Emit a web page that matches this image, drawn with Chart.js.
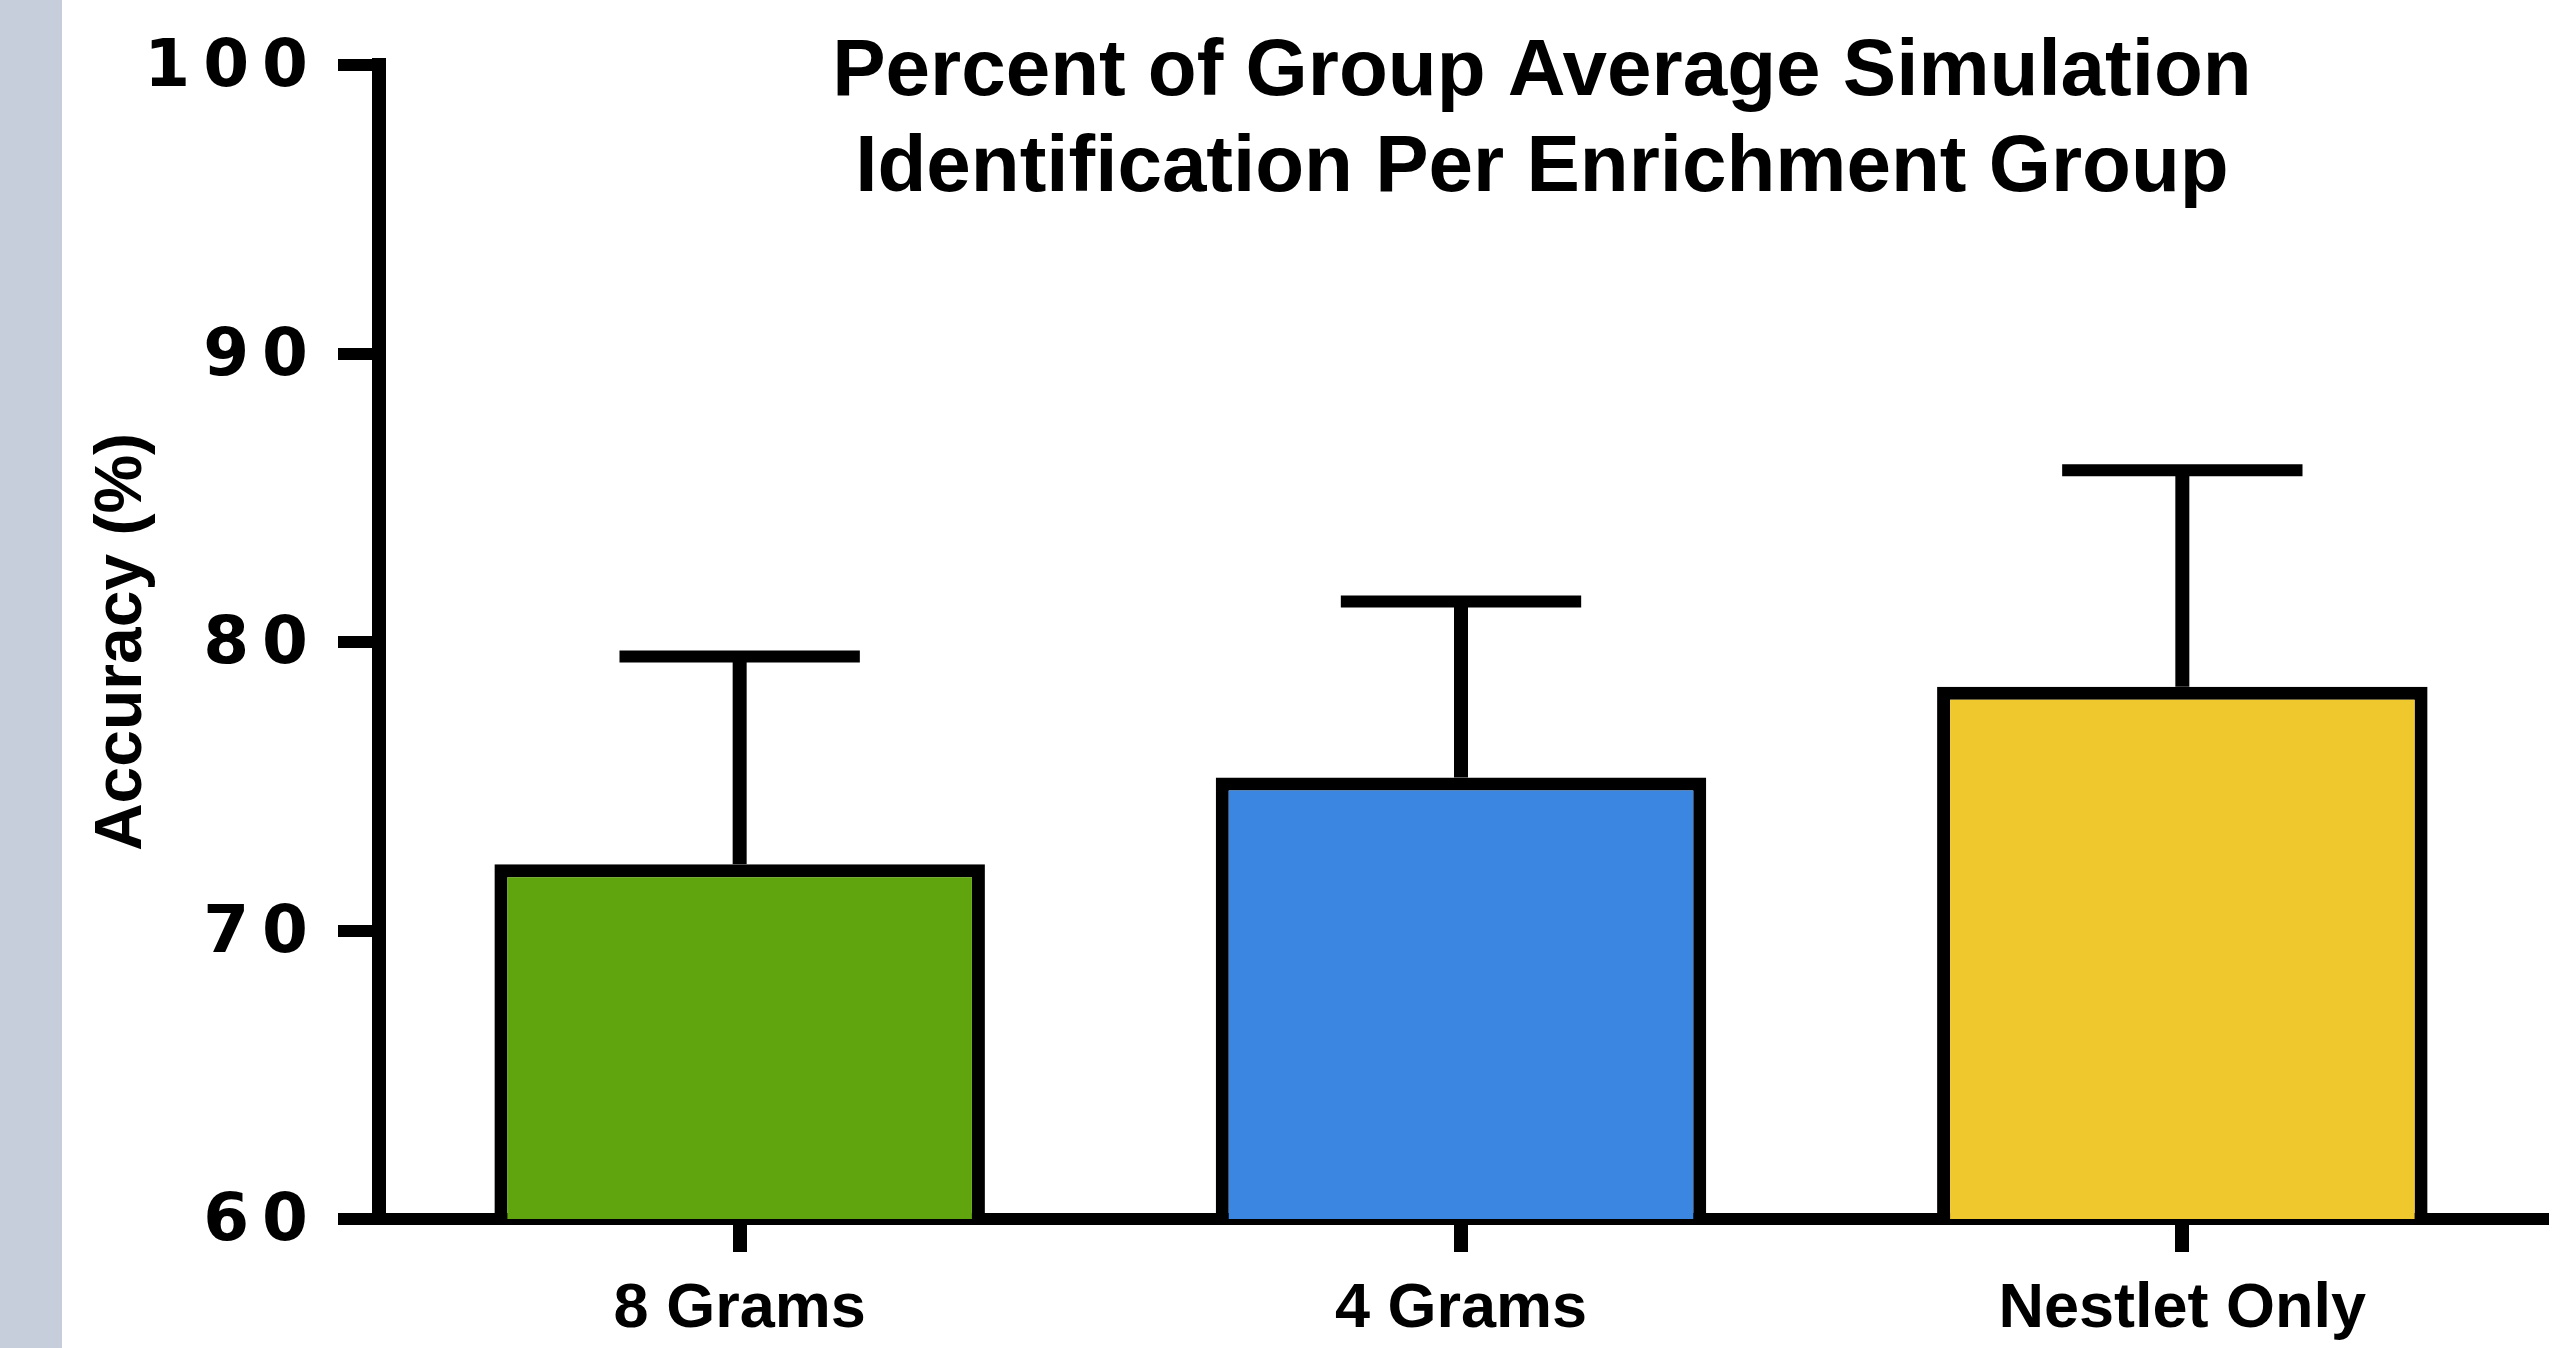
<!DOCTYPE html>
<html>
<head>
<meta charset="utf-8">
<script src="https://cdn.jsdelivr.net/npm/chart.js@4/dist/chart.umd.min.js"></script>
<style>
  html, body { margin: 0; padding: 0; background: #ffffff; width: 2570px; height: 1348px; overflow: hidden; }
  #strip { position: absolute; left: 0; top: 0; width: 62px; height: 1348px; background: #C6CEDB; }
  #wrap { position: absolute; left: 62px; top: 0; width: 2508px; height: 1348px; }
</style>
</head>
<body>
<div id="strip"></div>
<div id="wrap"><canvas id="c" width="2508" height="1348"></canvas></div>
<script>
// ---- Data ----
const categories = ['8 Grams', '4 Grams', 'Nestlet Only'];
const means = [72.3, 75.3, 78.45];
const errors = [7.2, 6.1, 7.5];
const barColors = ['#60A50E', '#3B86E0', '#EEC82D'];
const yTicks = [60, 70, 80, 90, 100];
const titleLines = ['Percent of Group Average Simulation', 'Identification Per Enrichment Group'];
const yAxisTitle = 'Accuracy (%)';

// y scale with spaced tick digits
class SpacedLinearScale extends Chart.LinearScale {
  drawLabels(chartArea) {
    const ctx = this.ctx;
    const prev = ctx.letterSpacing;
    ctx.letterSpacing = '13px';
    super.drawLabels(chartArea);
    ctx.letterSpacing = prev;
  }
}
SpacedLinearScale.id = 'spacedLinear';
SpacedLinearScale.defaults = Chart.LinearScale.defaults;
Chart.register(SpacedLinearScale);

const errorBars = {
  id: 'errorBars',
  afterDatasetsDraw(chart) {
    const ctx = chart.ctx;
    const meta = chart.getDatasetMeta(0);
    const ys = chart.scales.y;
    ctx.save();
    ctx.strokeStyle = '#000';
    ctx.lineCap = 'butt';
    meta.data.forEach((el, i) => {
      const yTop = ys.getPixelForValue(means[i] + errors[i]);
      const half = el.width * 0.49 / 2;
      ctx.lineWidth = 14;
      ctx.beginPath();
      ctx.moveTo(el.x, el.y);
      ctx.lineTo(el.x, yTop);
      ctx.stroke();
      ctx.lineWidth = 12;
      ctx.beginPath();
      ctx.moveTo(el.x - half, yTop);
      ctx.lineTo(el.x + half, yTop);
      ctx.stroke();
    });
    ctx.restore();
  }
};

const overlayTitle = {
  id: 'overlayTitle',
  afterDraw(chart) {
    const ctx = chart.ctx;
    const a = chart.chartArea;
    const cx = a.left + (a.right - a.left) * 0.5374;
    ctx.save();
    ctx.fillStyle = '#000';
    ctx.font = 'bold 80px "Liberation Sans", Arial, sans-serif';
    ctx.textAlign = 'center';
    ctx.textBaseline = 'alphabetic';
    titleLines.forEach((line, i) => {
      ctx.fillText(line, cx, 95 + i * 96);
    });
    ctx.restore();
  }
};

new Chart(document.getElementById('c'), {
  type: 'bar',
  data: {
    labels: categories,
    datasets: [{
      data: means,
      backgroundColor: barColors,
      borderColor: '#000000',
      borderWidth: 13,
      borderSkipped: 'start',
      barPercentage: 0.68,
      categoryPercentage: 1.0
    }]
  },
  options: {
    responsive: false,
    devicePixelRatio: 1,
    animation: false,
    layout: { padding: { left: 0, top: 65, right: 27, bottom: 0 } },
    plugins: {
      legend: { display: false },
      tooltip: { enabled: false },
      title: { display: false }
    },
    scales: {
      x: {
        type: 'category',
        z: 1,
        grid: { display: true, drawOnChartArea: false, drawTicks: true, offset: false,
                tickLength: 33, tickWidth: 14, tickColor: '#000', lineWidth: 12, color: '#000' },
        border: { display: true, color: '#000', width: 12 },
        ticks: { color: '#000', padding: 20,
                 font: { family: '"Liberation Sans", Arial, sans-serif', size: 63, weight: 'bold' } },
        afterFit(s) { s.height = 129; }
      },
      y: {
        type: 'spacedLinear',
        z: 1,
        min: yTicks[0],
        max: yTicks[yTicks.length - 1],
        afterBuildTicks(s) { s.ticks = yTicks.map(v => ({ value: v })); },
        grid: { display: true, drawOnChartArea: false, drawTicks: true,
                tickLength: 41, tickWidth: 12, tickColor: '#000', lineWidth: 12, color: '#000' },
        border: { display: true, color: '#000', width: 14 },
        ticks: { color: '#000', padding: 17, labelOffset: 4,
                 font: { family: '"DejaVu Sans", sans-serif', size: 66, weight: 'bold' } },
        title: { display: true, text: yAxisTitle, color: '#000', padding: { top: 21, bottom: 0 },
                 font: { family: '"Liberation Sans", Arial, sans-serif', size: 66, weight: 'bold' } },
        afterFit(s) { s.width = 317; }
      }
    }
  },
  plugins: [errorBars, overlayTitle]
});
</script>
</body>
</html>
